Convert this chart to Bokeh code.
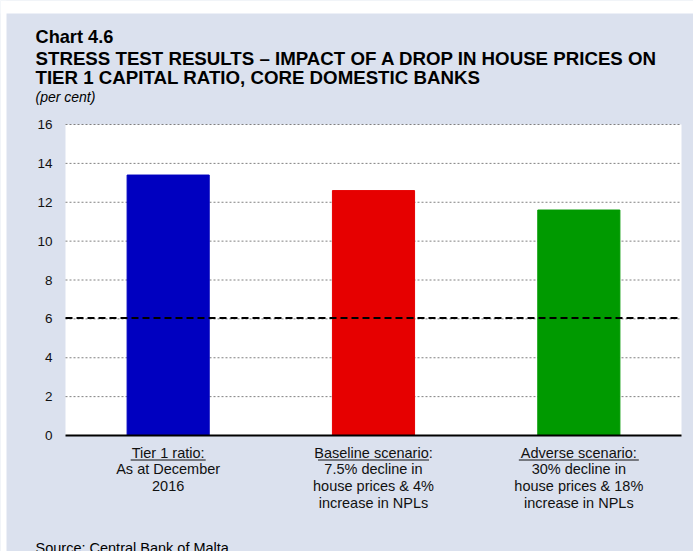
from bokeh.plotting import figure
from bokeh.models import Range1d, FixedTicker, Label, BoxAnnotation, ColumnDataSource
from bokeh.embed import file_html
from bokeh.resources import INLINE

# ---------------- data ----------------
categories = ["Tier 1 ratio", "Baseline scenario", "Adverse scenario"]
values = [13.4, 12.6, 11.6]
bar_colors = ["#0000C0", "#E60000", "#009A00"]
label_heads = ["Tier 1 ratio:", "Baseline scenario:", "Adverse scenario:"]
label_bodies = [
    "As at December\n2016",
    "7.5% decline in\nhouse prices & 4%\nincrease in NPLs",
    "30% decline in\nhouse prices & 18%\nincrease in NPLs",
]
threshold = 6.05
y_ticks = [0, 2, 4, 6, 8, 10, 12, 14, 16]

title_lines = [
    "Chart 4.6",
    "STRESS TEST RESULTS \u2013 IMPACT OF A DROP IN HOUSE PRICES ON",
    "TIER 1 CAPITAL RATIO, CORE DOMESTIC BANKS",
]
subtitle = "(per cent)"
source_text = "Source: Central Bank of Malta."

# ---------------- layout / style ----------------
W, H = 693, 551
# plot-area edges on the canvas (pixels)
PL, PR, PT, PB = 65, 681, 124, 435
BG = "#DBE1EE"
FONT = "Liberation Sans"
TXT = "#111111"

n = len(categories)
y_max = y_ticks[-1]
PX_X = (PR - PL) / n
PX_Y = (PB - PT) / y_max


def sx(px):
    return px


def sy(py):
    return H - py


xs = [i + 0.5 for i in range(n)]
src = ColumnDataSource(dict(x=xs, top=values, color=bar_colors, name=categories))

p = figure(width=W, height=H, output_backend="svg", toolbar_location=None,
           x_range=Range1d(-PL / PX_X, n + (W - PR) / PX_X),
           y_range=Range1d(-(H - PB) / PX_Y, y_max + PT / PX_Y),
           min_border=0, min_border_left=0, min_border_right=0,
           min_border_top=0, min_border_bottom=0,
           background_fill_color=BG, border_fill_color=BG, outline_line_color=None,
           x_axis_location=None)
p.grid.visible = False

# white plot area
p.quad(left=0, right=n, bottom=0, top=y_max, fill_color="white", line_color=None)

# dotted horizontal grid lines
gl = ColumnDataSource(dict(y=y_ticks[1:]))
p.segment(x0=0, x1=n, y0="y", y1="y", source=gl, line_color="#808080",
          line_width=1, line_dash="2 2")

# bars
p.vbar(x="x", top="top", bottom=0, width=0.4, fill_color="color", line_color="color", source=src)

# threshold dashed line
p.segment(x0=0, x1=n, y0=threshold, y1=threshold, line_color="black",
          line_width=2, line_dash="7 4")

# x baseline
p.segment(x0=0, x1=n, y0=0, y1=0, line_color="black", line_width=2)

# y axis, drawn at the left edge of the plot area
p.yaxis.fixed_location = 0
p.yaxis.ticker = FixedTicker(ticks=y_ticks)
p.yaxis.axis_line_color = None
p.yaxis.major_tick_line_color = None
p.yaxis.minor_tick_line_color = None
p.yaxis.major_tick_out = 0
p.yaxis.major_tick_in = 0
p.yaxis.major_label_standoff = 13
p.yaxis.major_label_text_font = FONT
p.yaxis.major_label_text_font_size = "13.5px"
p.yaxis.major_label_text_color = TXT

# white page strips (top and left) of the original page
for l, r, t, b in [(0, W, 0, 13), (0, 6, 0, H)]:
    p.add_layout(BoxAnnotation(left=sx(l), right=sx(r), top=sy(t), bottom=sy(b),
                               left_units="screen", right_units="screen",
                               top_units="screen", bottom_units="screen",
                               fill_color="white", fill_alpha=1, line_color=None,
                               level="overlay"))

# category labels with underlined heading
under_w = [75, 111, 120]
for i in range(n):
    p.add_layout(Label(x=xs[i], y=sy(444), x_units="data", y_units="screen",
                       text=label_heads[i] + "\n" + label_bodies[i],
                       text_align="center", text_baseline="top", text_line_height=1.05,
                       text_font=FONT, text_font_size="14.5px", text_color=TXT))
    hw = under_w[i] / 2 / PX_X
    p.add_layout(BoxAnnotation(left=xs[i] - hw, right=xs[i] + hw,
                               top=sy(459), bottom=sy(460),
                               top_units="screen", bottom_units="screen",
                               fill_color=TXT, fill_alpha=1, line_color=None))

# titles
title_y = [36.2, 57.8, 76.8]
title_size = ["18.2px", "18.7px", "18.7px"]
for t, y, fs in zip(title_lines, title_y, title_size):
    p.add_layout(Label(x=sx(35), y=sy(y), x_units="screen", y_units="screen", text=t,
                       text_font=FONT, text_font_size=fs, text_font_style="bold",
                       text_baseline="alphabetic", text_color="black"))
p.add_layout(Label(x=sx(35), y=sy(96.5), x_units="screen", y_units="screen", text=subtitle,
                   text_font=FONT, text_font_size="14px", text_font_style="italic",
                   text_baseline="alphabetic", text_color="black"))
p.add_layout(Label(x=sx(35), y=sy(547.5), x_units="screen", y_units="screen", text=source_text,
                   text_font=FONT, text_font_size="14.5px",
                   text_baseline="alphabetic", text_color="black"))

open("out.html", "w").write(file_html(p, INLINE))
